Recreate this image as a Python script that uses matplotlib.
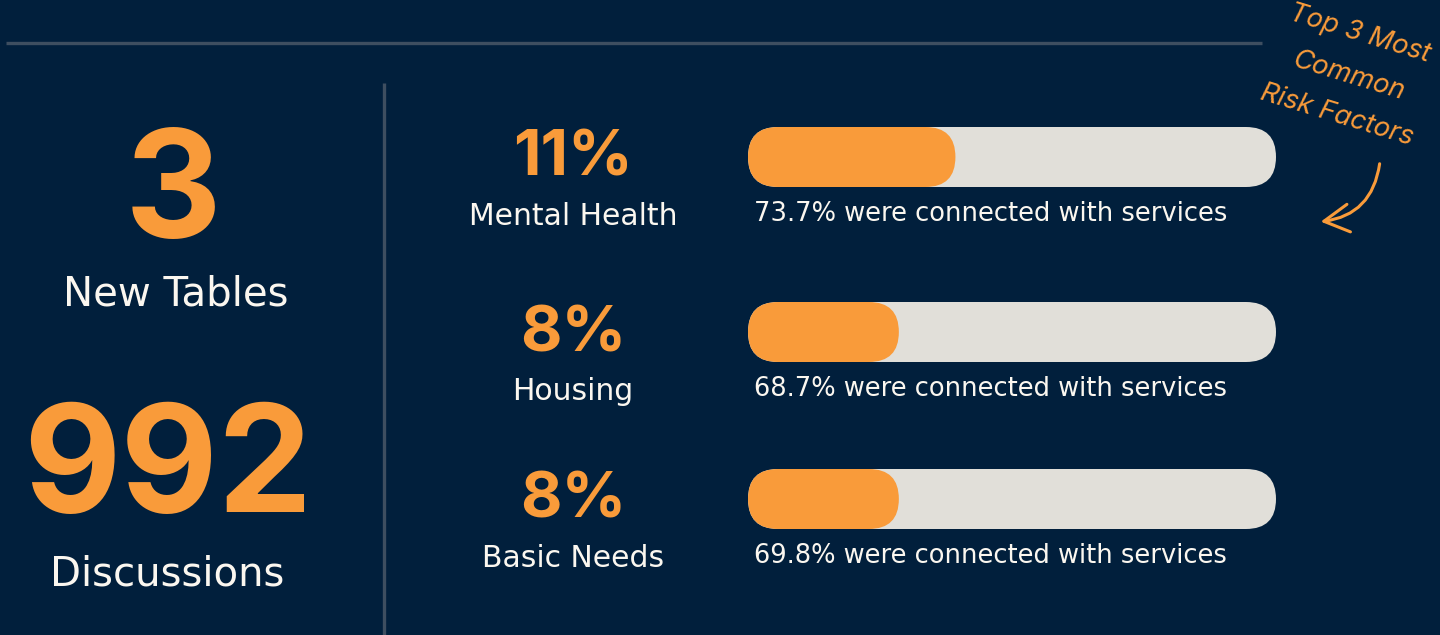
import matplotlib.pyplot as plt
from matplotlib.patches import FancyBboxPatch, FancyArrowPatch

# ------------------------------------------------------------
# Data
# ------------------------------------------------------------
stat_values = ["3", "992"]
stat_labels = ["New Tables", "Discussions"]

risk_factors = ["Mental Health", "Housing", "Basic Needs"]
risk_share = [11, 8, 8]                 # % of discussions
connected_share = [73.7, 68.7, 69.8]    # % connected with services
bar_max = 28                            # a full track is 28%

note_lines = ["Top 3 Most", "Common", "Risk Factors"]

# ------------------------------------------------------------
# Style
# ------------------------------------------------------------
BG = "#011f3c"
ORANGE = "#f99b3a"
TRACK = "#e1dfd9"
WHITE = "#fbf7f0"
RULE = "#3e4e60"

plt.rcParams["font.family"] = ["Inter", "DejaVu Sans"]
LABEL_FONT = ["DejaVu Sans"]

fig = plt.figure(figsize=(14.4, 6.35), dpi=100)
fig.patch.set_facecolor(BG)
ax = fig.add_axes([0, 0, 1, 1])
ax.set_xlim(0, 1440)
ax.set_ylim(635, 0)
ax.axis("off")

# ------------------------------------------------------------
# Divider lines
# ------------------------------------------------------------
ax.plot([6, 1262], [43, 43], color=RULE, lw=2.4, solid_capstyle="butt")
ax.plot([384, 384], [83, 635], color=RULE, lw=2.4, solid_capstyle="butt")

# ------------------------------------------------------------
# Left column: big numbers
# ------------------------------------------------------------
stat_base = [238, 512]
label_base = [305, 585]
stat_x = [173, 168]
for i in range(len(stat_values)):
    ax.text(stat_x[i], stat_base[i], stat_values[i], color=ORANGE,
            fontsize=108, fontweight="bold", ha="center", va="baseline")
    ax.text(176 - 9 * i, label_base[i], stat_labels[i], color=WHITE,
            fontsize=29, family=LABEL_FONT, ha="center", va="baseline")

# ------------------------------------------------------------
# Right side: risk factor rows
# ------------------------------------------------------------
row_top = [127, 302, 469]
track_x = 748
track_w = 528
track_h = 60

for i, name in enumerate(risk_factors):
    y0 = row_top[i]
    ax.text(573, y0 + 49, f"{risk_share[i]}%", color=ORANGE,
            fontsize=46, fontweight="bold", ha="center", va="baseline")
    ax.text(573, y0 + 98, name, color=WHITE, family=LABEL_FONT,
            fontsize=21.5, ha="center", va="baseline")

    track = FancyBboxPatch((track_x, y0), track_w, track_h,
                           boxstyle="round,pad=0,rounding_size=30",
                           facecolor=TRACK, edgecolor="none")
    ax.add_patch(track)
    fill_w = risk_share[i] / bar_max * track_w
    fill = FancyBboxPatch((track_x, y0), fill_w, track_h,
                          boxstyle="round,pad=0,rounding_size=30",
                          facecolor=ORANGE, edgecolor="none")
    ax.add_patch(fill)

    ax.text(track_x + 6, y0 + 94,
            f"{connected_share[i]}% were connected with services",
            color=WHITE, family=LABEL_FONT, fontsize=18.5,
            ha="left", va="baseline")

# ------------------------------------------------------------
# Handwritten note with arrow
# ------------------------------------------------------------
note_pos = [(1360, 34), (1349, 76), (1337, 115)]
for (x, y), line in zip(note_pos, note_lines):
    ax.text(x, y, line, color=ORANGE, fontsize=19.5, fontweight="normal",
            style="italic", rotation=-17, rotation_mode="anchor",
            ha="center", va="center")

arrow = FancyArrowPatch((1380, 161), (1318, 222),
                        connectionstyle="arc3,rad=-0.4",
                        arrowstyle="->,head_length=0.9,head_width=0.5",
                        mutation_scale=20, color=ORANGE, lw=2.2)
ax.add_patch(arrow)

fig.savefig("out.png", dpi=100, facecolor=BG)
